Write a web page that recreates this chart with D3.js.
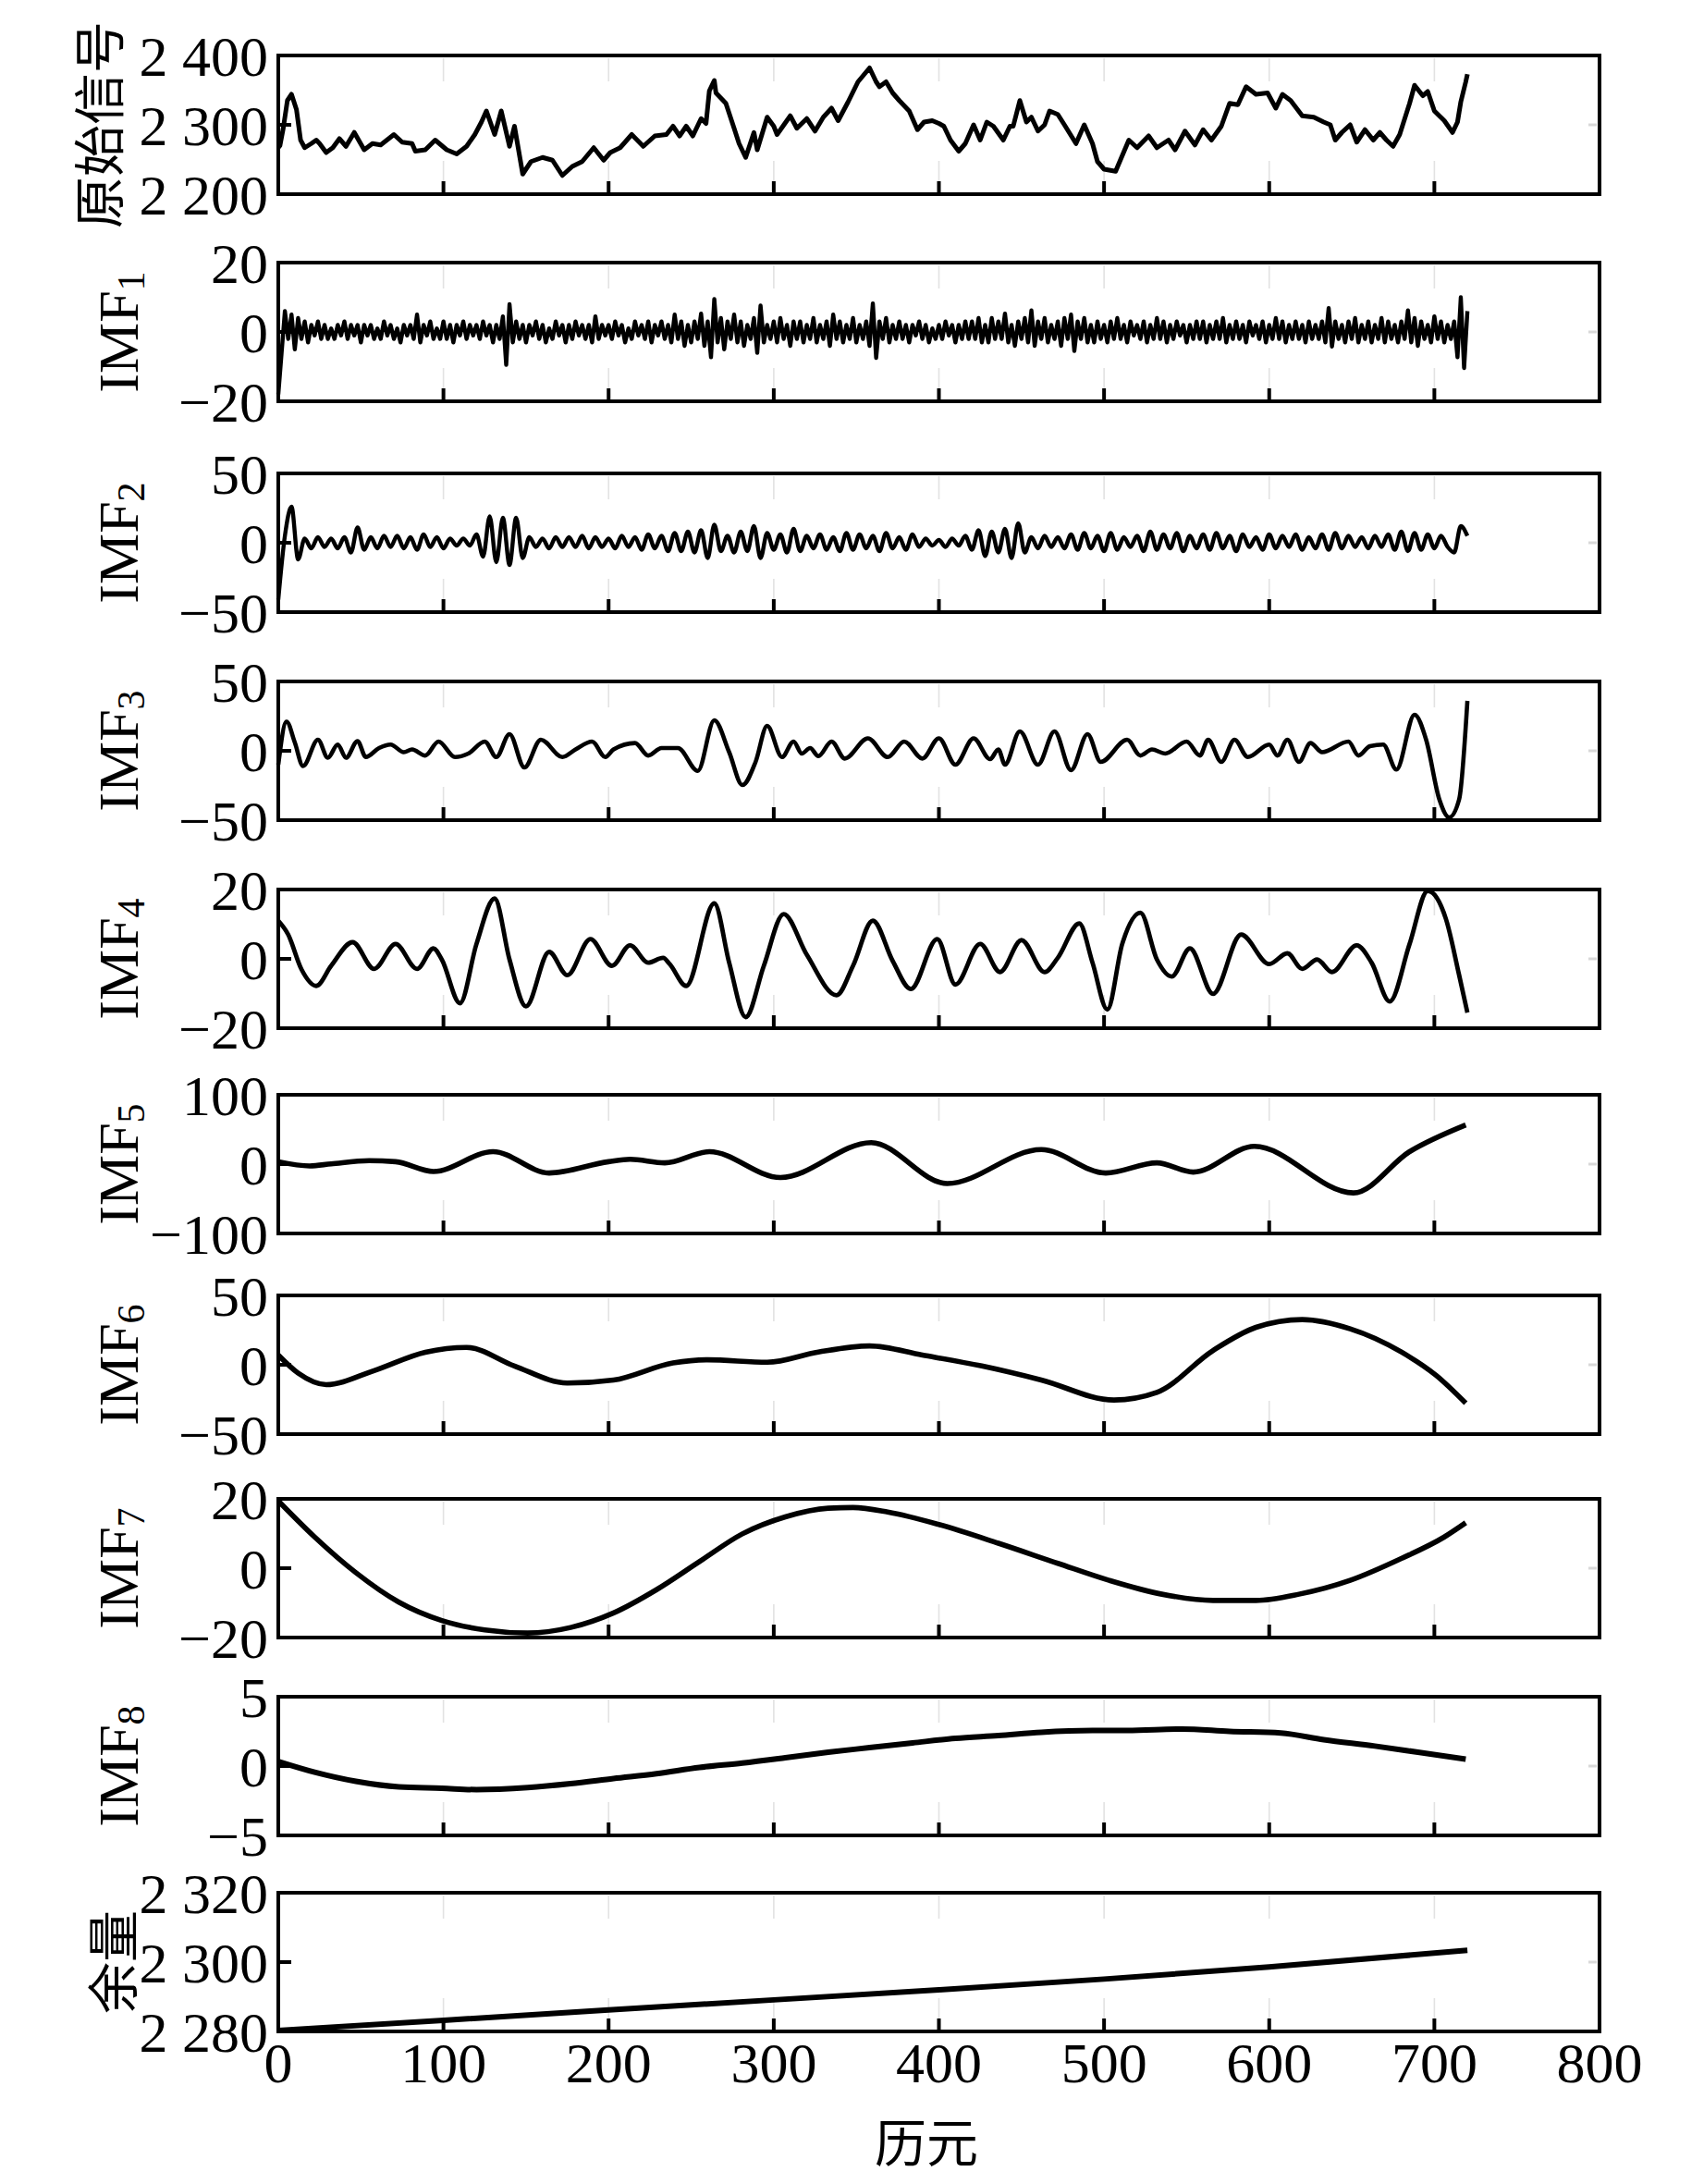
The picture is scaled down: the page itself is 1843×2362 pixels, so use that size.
<!DOCTYPE html>
<html><head><meta charset="utf-8">
<script src="https://cdn.jsdelivr.net/npm/d3@7"></script>
<style>body{margin:0;background:#fff}</style>
</head><body><svg id="c" width="1843" height="2362"></svg>
<script>
// ---------------- data ----------------
const xTicks = [0,100,200,300,400,500,600,700,800];
const xTickLabels = ["0","100","200","300","400","500","600","700","800"];
const xTitle = "历元";

const panelTitles = ["原始信号","IMF","IMF","IMF","IMF","IMF","IMF","IMF","IMF","余量"];
const panelSubs   = ["","1","2","3","4","5","6","7","8",""];

const yDomains = [[2200,2400],[-20,20],[-50,50],[-50,50],[-20,20],[-100,100],[-50,50],[-20,20],[-5,5],[2280,2320]];
const yTicks = [[2200,2300,2400],[-20,0,20],[-50,0,50],[-50,0,50],[-20,0,20],[-100,0,100],[-50,0,50],[-20,0,20],[-5,0,5],[2280,2300,2320]];
const yTickLabels = [["2 200","2 300","2 400"],["−20","0","20"],["−50","0","50"],["−50","0","50"],["−20","0","20"],["−100","0","100"],["−50","0","50"],["−20","0","20"],["−5","0","5"],["2 280","2 300","2 320"]];

// original signal [epoch, value]
const original = [[0,2267],[1,2270],[3,2295],[5.5,2335],[8,2344],[11,2322],[13.5,2278],[16,2267],[20,2273],[23,2278],[25,2273],[29,2260],[33,2267],[37,2280],[41,2269],[46,2289],[52,2264],[57,2273],[62,2271],[70,2286],[75,2275],[81,2273],[83,2262],[89,2264],[95,2278],[102,2264],[108,2258],[114,2269],[119,2286],[123,2304],[126,2320],[131,2286],[135,2320],[140,2269],[143,2298],[148,2229],[153,2247],[160,2253],[166,2249],[172,2227],[178,2240],[184,2247],[191,2267],[197,2249],[201,2260],[207,2267],[214,2286],[221,2269],[228,2284],[235,2286],[239,2298],[243,2284],[247,2298],[251,2284],[256,2309],[259,2302],[261,2349],[264,2364],[265,2346],[271,2331],[276,2295],[279,2273],[283,2253],[288,2289],[290,2264],[296,2311],[300,2298],[302,2286],[310,2313],[314,2295],[320,2309],[325,2291],[330,2311],[335,2324],[339,2306],[345,2333],[351,2362],[358,2382],[362,2362],[364,2355],[368,2362],[372,2346],[376,2335],[382,2320],[387,2293],[391,2304],[396,2306],[400,2302],[403,2298],[407,2278],[412,2262],[416,2273],[421,2300],[425,2278],[429,2304],[433,2298],[439,2278],[443,2298],[445,2298],[449,2335],[453,2304],[456,2311],[460,2291],[464,2300],[467,2320],[472,2315],[476,2300],[483,2273],[488,2300],[493,2273],[496,2247],[500,2236],[507,2233],[515,2278],[520,2267],[527,2284],[532,2267],[539,2278],[543,2264],[549,2291],[555,2271],[560,2293],[565,2278],[571,2298],[576,2331],[581,2329],[586,2355],[592,2344],[599,2346],[604,2324],[608,2344],[613,2335],[620,2313],[627,2311],[633,2304],[637,2300],[640,2278],[644,2289],[649,2300],[653,2275],[658,2293],[663,2278],[667,2289],[671,2278],[675,2269],[679,2286],[685,2331],[688,2357],[693,2342],[696,2348],[700,2320],[706,2306],[711,2289],[714,2304],[716,2333],[719,2362],[720,2373]];

// IMF1 sampled every 2 epochs from 0 to 720
const imf1Step = 2;
const imf1 = [
-18,-6,6,-2,5,-5,4,-2,3,-3,
2,-1,3,-2,2,-2,1,-2,2,-1,
3,-2,2,-1,2,-3,2,-1,2,-2,
1,-2,3,-1,2,-2,1,-3,2,-1,
2,-2,5,-3,2,-1,3,-2,1,-2,
3,-2,2,-3,2,-1,3,-2,2,-1,
2,-2,3,-1,2,-3,2,-2,4.5,-9.5,
8,-3,3,-2,2,-3,2,-1,3,-2,
2,-3,1,-2,3,-1,2,-3,2,-2,
3,-1,2,-2,2,-3,4.5,-2,2,-1,
2,-2,3,-1,2,-3,1,-2,3,-1,
2,-2,3,-3,2,-1,3,-2,2,-3,
5,-2,3,-4,2,-3,3,-2,5.3,-4,
3,-7.3,9.5,-3,4,-5,3,-2,5,-3,
3,-4,2,-2,4,-6,7.6,-3,2,-2,
3,-3,4,-2,2,-4,3,-2,3,-3,
2,-2,4,-3,2,-2,3,-4,5,-2,
3,-3,2,-2,4,-3,2,-2,3,-4,
8.2,-7.5,3,-2,4,-3,2,-2,3,-2,
2,-3,2,-1,3,-2,2,-3,1,-2,
2,-2,3,-1,2,-3,2,-2,3,-2,
3,-2,4,-3,2,-3,4,-2,3,-2,
5.3,-3,2,-4,3,-2,4,-3,6.2,-4,
3,-2,4,-3,2,-2,3,-4,4,-2,
5,-5.5,3,-2,4,-3,2,-3,3,-2,
2,-3,3,-2,4,-2,2,-3,3,-1,
2,-2,3,-3,2,-2,4,-2,3,-3,
2,-2,3,-1,2,-3,2,-2,3,-2,
3,-3,2,-2,3,-2,4,-3,2,-2,
3,-2,2,-3,3,-1,2,-2,3,-3,
2,-2,4,-2,3,-3,2,-2,3,-2,
2,-3,3,-2,2,-2,3,-3,6.9,-4.2,
3,-2,2,-3,3,-2,4,-3,2,-2,
3,-3,2,-2,4,-3,3,-2,2,-3,
3,-2,6.2,-3,4,-4,3,-2,2,-3,
4.5,-2,3,-3,2,-2,3,-7.3,10,-10.4,
6];

// IMF2 sampled every 4 epochs from 0 to 720
const imf2Step = 4;
const imf2 = [
-41,5,26,-12,3,-4,4,-3,3,-4,
4,-7,11,-5,4,-4,5,-3,5,-4,
4,-5,6,-3,4,-4,3,-2,3,-2,
6,-10,19,-14,18,-16,18,-11,4,-3,
3,-4,4,-3,4,-3,5,-4,4,-3,
3,-4,5,-3,4,-5,6,-4,5,-6,
7,-6,8,-7,9,-11,13,-6,5,-7,
8,-6,12,-11,7,-5,6,-7,10,-6,
5,-4,6,-5,4,-6,7,-5,6,-4,
5,-6,7,-4,4,-5,6,-3,3,-2,
2,-3,3,-2,5,-5,9,-9.5,8,-7,
10,-11,14,-7,4,-4,5,-3,4,-4,
6,-5,7,-4,5,-6,7,-5,4,-3,
5,-6,8,-5,6,-4,7,-6,5,-4,
6,-5,7,-4,5,-6,6,-3,4,-5,
6,-4,5,-3,6,-5,4,-4,6,-5,
7,-4,5,-3,4,-4,5,-3,6,-5,
8,-6,7,-5,6,-4,5,-3,-7,12,
5];

const imf3 = [[0,-10],[5,21],[10,6],[15,-11],[24,8],[30,-5],[36,4.5],[41,-5],[48,7],[53,-4.5],[61,2],[68,4.5],[76,-1],[81,1],[89,-3.4],[97,6.7],[107,-4.5],[115,-2],[125,6.7],[132,-4.5],[140,12],[149,-12],[159,8],[172,-4.5],[180,1],[190,6.7],[198,-4.5],[203,1],[216,5.6],[224,-3.4],[232,2],[242,2],[254,-14.5],[264,22],[273,-1],[281,-24.7],[289,-8],[296,18],[305,-4.5],[312,6.7],[317,-2],[322,2],[327,-3.8],[335,6.7],[343,-5.6],[357,9],[369,-4.5],[379,6.7],[390,-5.6],[400,9],[410,-10],[421,9],[431,-6],[436,1],[440,-10],[449,14],[460,-10],[470,14],[480,-14],[490,12],[498,-8],[514,8],[522,-3.4],[529,1],[537,-2],[550,6.7],[558,-3.4],[563,8],[571,-8],[579,8],[587,-4.5],[600,4.5],[605,-3.4],[611,8],[618,-8],[625,5.6],[632,-1],[648,6.7],[654,-3.4],[661,3.4],[669,4.5],[677,-13.5],[688,26],[695,8],[703,-35],[709,-48],[715,-35],[720,36]];

const imf4 = [[0,11],[6,7],[14,-3],[23,-7.8],[32,-2],[45,4.8],[58,-2.9],[71,4.3],[84,-2.9],[94,3],[99,-0.2],[110,-12.8],[120,4.3],[131,17.4],[140,-0.2],[150,-13.7],[164,2],[175,-4.7],[189,5.7],[202,-2],[213,3.9],[224,-1.1],[233,0.3],[237,-1.5],[247,-7.8],[264,16],[273,-1.1],[283,-16.8],[294,-2],[306,12.9],[320,1.2],[338,-10.5],[348,-2],[360,11],[372,-0.6],[383,-8.7],[399,5.7],[410,-7.4],[425,4.3],[437,-3.8],[450,5.4],[464,-3.8],[472,0.3],[485,10.2],[493,-1.1],[502,-14.6],[511,4.3],[522,13.3],[532,-0.2],[541,-5.1],[552,3],[566,-10.1],[583,7],[600,-1.5],[611,1.6],[620,-2.9],[629,-0.2],[638,-3.8],[653,3.9],[662,-1.1],[673,-12.3],[685,4.3],[696,19.6],[707,11.5],[715,-4.7],[720,-15.5]];

const imf5 = [[0,3.5],[19,-2.6],[32,0.4],[55,5],[71,3.5],[94,-10.6],[130,18],[164,-12.8],[200,3.5],[213,7],[234,1.8],[261,18],[304,-19.4],[359,31],[405,-28],[462,21],[501,-12.8],[532,1.8],[554,-11.5],[591,25.6],[651,-41.5],[685,18],[719,56.5]];

const imf6 = [[0,7],[12,-6],[29,-14.3],[58,-4.2],[89,9],[114,12.5],[143,-0.9],[175,-13.2],[203,-11],[239,1.3],[260,3.6],[296,1.8],[327,9.2],[358,13.6],[390,7],[426,-0.9],[462,-11],[506,-25.4],[532,-19.9],[566,10.3],[592,27],[620,32.6],[649,25.9],[680,9.2],[701,-7.6],[719,-27.7]];

const imf7 = [[0,19.4],[22,9],[47,-1.3],[73,-9.8],[99,-15.1],[125,-17.8],[151,-18.7],[177,-17.1],[203,-12.9],[229,-6.2],[255,1.9],[281,9.9],[307,14.8],[333,17.3],[348,17.5],[369,16.2],[400,12.6],[436,7.2],[472,1.4],[503,-3.5],[535,-7.5],[566,-9.3],[592,-9.3],[618,-7.5],[649,-3.5],[680,2.8],[706,9],[719,13.1]];

const imf8 = [[0,0.33],[22,-0.44],[47,-1.1],[73,-1.5],[99,-1.6],[120,-1.7],[151,-1.55],[177,-1.27],[203,-0.9],[229,-0.55],[255,-0.1],[281,0.22],[307,0.6],[333,1.0],[358,1.33],[384,1.67],[410,2.0],[436,2.2],[462,2.44],[493,2.56],[514,2.56],[547,2.67],[576,2.5],[607,2.38],[633,1.9],[664,1.44],[690,1.0],[719,0.5]];

const residual = [[0,2280.3],[100,2283.2],[200,2286.2],[300,2289.1],[400,2292],[500,2295.1],[600,2298.6],[720,2303.4]];

// ---------------- layout ----------------
const svg = d3.select("#c");
const left = 301, right = 1730, panelH = 150;
const tops = [60,284,512,737,962,1184,1401,1621,1835,2047];
const serif = "'Liberation Serif','Times New Roman',serif";
const cjk = "'Noto Sans CJK SC','Noto Sans CJK JP',sans-serif";

const x = d3.scaleLinear().domain([0,800]).range([left,right]);

const series = [
  original,
  imf1.map((v,i)=>[i*imf1Step, v]),
  imf2.map((v,i)=>[i*imf2Step, v]),
  imf3, imf4, imf5, imf6, imf7, imf8, residual
];
const curves = [d3.curveLinear, d3.curveLinear, d3.curveMonotoneX, d3.curveMonotoneX, d3.curveMonotoneX,
                d3.curveMonotoneX, d3.curveMonotoneX, d3.curveMonotoneX, d3.curveMonotoneX, d3.curveLinear];
const widths = [5,4.4,4.4,4.6,4.8,5.6,5.6,5.6,6,6];

series.forEach((data, p) => {
  const top = tops[p], bottom = top + panelH;
  const y = d3.scaleLinear().domain(yDomains[p]).range([bottom, top]);
  const g = svg.append("g");
  const inner = xTicks.filter(t => t > 0 && t < 800);
  // faint gray ticks
  g.selectAll(".gt").data(inner).enter().append("line")
    .attr("x1", d=>x(d)).attr("x2", d=>x(d)).attr("y1", top+3).attr("y2", top+28)
    .attr("stroke", "#e2e2e2").attr("stroke-width", 1.6);
  g.selectAll(".gb").data(inner).enter().append("line")
    .attr("x1", d=>x(d)).attr("x2", d=>x(d)).attr("y1", bottom-36).attr("y2", bottom-14)
    .attr("stroke", "#e2e2e2").attr("stroke-width", 1.6);
  // data line
  g.append("path").datum(data)
    .attr("d", d3.line().x(d=>x(d[0])).y(d=>y(d[1])).curve(curves[p]))
    .attr("fill","none").attr("stroke","#000").attr("stroke-width", widths[p])
    .attr("stroke-linejoin","round").attr("stroke-linecap","butt");
  // bottom ticks
  g.selectAll(".bt").data(inner).enter().append("line")
    .attr("x1", d=>x(d)).attr("x2", d=>x(d)).attr("y1", bottom).attr("y2", bottom-14)
    .attr("stroke", "#000").attr("stroke-width", 4);
  // middle y tick
  const mid = yTicks[p][1];
  g.append("line").attr("x1", left).attr("x2", left+14).attr("y1", y(mid)).attr("y2", y(mid))
    .attr("stroke","#000").attr("stroke-width",4);
  g.append("line").attr("x1", right-12).attr("x2", right-3).attr("y1", y(mid)).attr("y2", y(mid))
    .attr("stroke","#d8d8d8").attr("stroke-width",3);
  // frame
  g.append("rect").attr("x", left).attr("y", top).attr("width", right-left).attr("height", panelH)
    .attr("fill","none").attr("stroke","#000").attr("stroke-width",4);
  // y tick labels
  g.selectAll(".yl").data(yTicks[p]).enter().append("text")
    .attr("x", 290).attr("y", d=>y(d)).attr("dy","0.35em")
    .attr("text-anchor","end").attr("font-family", serif).attr("font-size", 62)
    .text((d,i)=>yTickLabels[p][i]);
  // y title
  const cy = top + panelH/2;
  const isCJK = panelSubs[p] === "";
  const tx = p === 0 ? 103 : (isCJK ? 118 : 128);
  const t = svg.append("text")
    .attr("transform", `translate(${tx},${cy}) rotate(-90)`)
    .attr("text-anchor","middle").attr("dominant-baseline","central");
  if (isCJK) {
    t.attr("font-family", cjk).attr("font-size", 56).text(panelTitles[p]);
  } else {
    t.attr("font-family", serif).attr("font-size", 62);
    t.append("tspan").text(panelTitles[p]);
    t.append("tspan").attr("font-size", 42).attr("dy", 14).text(panelSubs[p]);
  }
});

// x tick labels
svg.selectAll(".xl").data(xTicks).enter().append("text")
  .attr("x", d=>x(d)).attr("y", 2230).attr("dy","0.35em")
  .attr("text-anchor","middle").attr("font-family", serif).attr("font-size", 62)
  .text((d,i)=>xTickLabels[i]);
// x title
svg.append("text").attr("x", 1002).attr("y", 2318).attr("dy","0.35em")
  .attr("text-anchor","middle").attr("font-family", cjk).attr("font-size", 56)
  .text(xTitle);
</script>
</body></html>
